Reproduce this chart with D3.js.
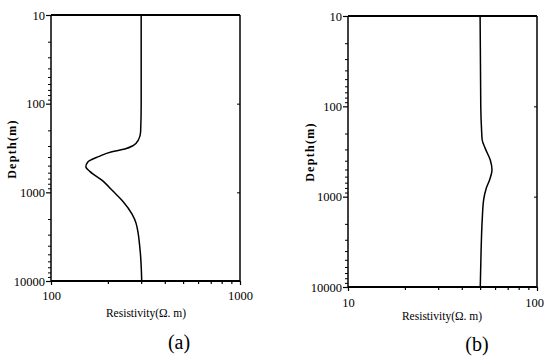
<!DOCTYPE html>
<html>
<head>
<meta charset="utf-8">
<script src="https://cdn.jsdelivr.net/npm/d3@7"></script>
<style>
  body { margin: 0; background: #fff; }
  svg { display: block; }
  text { font-family: "Liberation Serif", "Times New Roman", serif; fill: #000; }
</style>
</head>
<body>
<div id="chart"></div>
<script>
// Panel (a) profile
const depthA = [10, 100, 207, 257, 297, 324, 348, 396, 451, 513, 584, 725, 981, 1274, 1750, 2240, 4470, 10000];
const resA   = [300, 300, 298, 290, 272, 246, 210, 178, 157, 153, 161, 185, 214, 241, 268, 282, 296, 302];

// Panel (b) profile
const depthB = [10, 100, 183, 236, 292, 393, 507, 653, 807, 1087, 1807, 4000, 10000];
const resB   = [50.0, 50.4, 50.9, 51.3, 53.2, 56.6, 57.8, 56.1, 53.9, 52.2, 51.3, 50.6, 50.1];

const depthTicks = [10, 100, 1000, 10000];
const resTicksA = [100, 1000];
const resTicksB = [10, 100];
const panelLabels = ['(a)', '(b)'];

const width = 545, height = 358;
const serif = '"Liberation Serif", "Times New Roman", serif';

const svg = d3.select('#chart')
    .append('svg')
    .attr('width', width)
    .attr('height', height);

function drawPanel(cfg) {
    const x = d3.scaleLog().domain(cfg.xDomain).range([cfg.left, cfg.right]);
    const y = d3.scaleLog().domain([10, 10000]).range([cfg.top, cfg.bottom]);
    const g = svg.append('g');

    // minor ticks on the left axis (outward)
    const yMinor = [];
    for (let d = 1; d <= 3; d++) {
        for (let k = 2; k <= 9; k++) yMinor.push(k * Math.pow(10, d));
    }
    g.append('g')
        .attr('transform', `translate(${cfg.left},0)`)
        .call(d3.axisLeft(y).tickValues(yMinor).tickSize(3).tickFormat(''))
        .call(a => a.select('.domain').remove())
        .selectAll('line').attr('stroke', '#000').attr('stroke-width', 1);

    g.append('g')
        .attr('transform', `translate(${cfg.left},0)`)
        .attr('font-family', serif)
        .call(d3.axisLeft(y).tickValues(depthTicks).tickSize(5).tickPadding(1).tickFormat(d3.format('d')))
        .call(a => a.select('.domain').remove())
        .call(a => a.selectAll('line').attr('stroke', '#000').attr('stroke-width', 1.2))
        .call(a => a.selectAll('text')
            .style('font-family', serif)
            .style('font-size', '12.5px')
            .attr('fill', '#000'));

    // right axis: major ticks inward
    g.append('g')
        .attr('transform', `translate(${cfg.right},0)`)
        .call(d3.axisLeft(y).tickValues([100, 1000]).tickSize(3).tickFormat(''))
        .call(a => a.select('.domain').remove())
        .selectAll('line').attr('stroke', '#000');

    // bottom axis with log minor ticks
    const xMinor = [];
    for (let k = 2; k <= 9; k++) xMinor.push(k * cfg.xDomain[0]);
    g.append('g')
        .attr('transform', `translate(0,${cfg.bottom})`)
        .call(d3.axisBottom(x).tickValues(xMinor).tickSize(3).tickFormat(''))
        .call(a => a.select('.domain').remove())
        .selectAll('line').attr('stroke', '#000').attr('stroke-width', 1.2);

    g.append('g')
        .attr('transform', `translate(0,${cfg.bottom})`)
        .attr('font-family', serif)
        .call(d3.axisBottom(x).tickValues(cfg.xTicks).tickSize(4).tickPadding(cfg.xPad).tickFormat(d3.format('d')))
        .call(a => a.select('.domain').remove())
        .call(a => a.selectAll('line').attr('stroke', '#000').attr('stroke-width', 1.2))
        .call(a => a.selectAll('text')
            .style('font-family', serif)
            .style('font-size', '12.5px')
            .attr('fill', '#000')
            .attr('dx', (d, i) => i === cfg.xTicks.length - 1 ? cfg.lastDx : 0));

    // frame
    g.append('line').attr('x1', cfg.left).attr('x2', cfg.right).attr('y1', cfg.top).attr('y2', cfg.top)
        .attr('stroke', '#000').attr('stroke-width', 2);
    g.append('line').attr('x1', cfg.left).attr('x2', cfg.right).attr('y1', cfg.bottom).attr('y2', cfg.bottom)
        .attr('stroke', '#000').attr('stroke-width', 2);
    g.append('line').attr('x1', cfg.left).attr('x2', cfg.left).attr('y1', cfg.top).attr('y2', cfg.bottom)
        .attr('stroke', '#000').attr('stroke-width', 1.5);
    g.append('line').attr('x1', cfg.right).attr('x2', cfg.right).attr('y1', cfg.top).attr('y2', cfg.bottom)
        .attr('stroke', '#000').attr('stroke-width', 1.5);

    // curve
    const pts = cfg.depth.map((d, i) => ({ depth: d, res: cfg.res[i] }));
    g.append('path')
        .datum(pts)
        .attr('fill', 'none')
        .attr('stroke', '#000')
        .attr('stroke-width', 1.5)
        .attr('d', d3.line()
            .x(d => x(d.res))
            .y(d => y(d.depth))
            .curve(d3.curveMonotoneY));

    // axis titles
    g.append('text')
        .attr('transform', `translate(${cfg.yTitleX},${cfg.yTitleY}) rotate(-90)`)
        .attr('text-anchor', 'middle')
        .attr('dy', '0.35em')
        .style('font-size', '12px')
        .style('font-weight', 'bold')
        .style('letter-spacing', '1.3px')
        .text('Depth(m)');

    g.append('text')
        .attr('x', cfg.xTitleX)
        .attr('y', cfg.xTitleY)
        .attr('text-anchor', 'middle')
        .style('font-size', '11.5px')
        .attr('fill', '#222')
        .text('Resistivity(Ω. m)');

    g.append('text')
        .attr('x', cfg.labelX)
        .attr('y', cfg.labelY)
        .attr('text-anchor', 'middle')
        .style('font-size', '20px')
        .text(cfg.label);
}

drawPanel({
    xDomain: [100, 1000], xTicks: resTicksA, depth: depthA, res: resA,
    left: 51, right: 240, top: 15, bottom: 281, xPad: 6, lastDx: 0,
    yTitleX: 12, yTitleY: 149, xTitleX: 146, xTitleY: 317,
    labelX: 179, labelY: 349, label: panelLabels[0]
});

drawPanel({
    xDomain: [10, 100], xTicks: resTicksB, depth: depthB, res: resB,
    left: 348, right: 537, top: 16, bottom: 287, xPad: 7, lastDx: -3,
    yTitleX: 310, yTitleY: 152, xTitleX: 442, xTitleY: 320,
    labelX: 477, labelY: 351, label: panelLabels[1]
});
</script>
</body>
</html>
